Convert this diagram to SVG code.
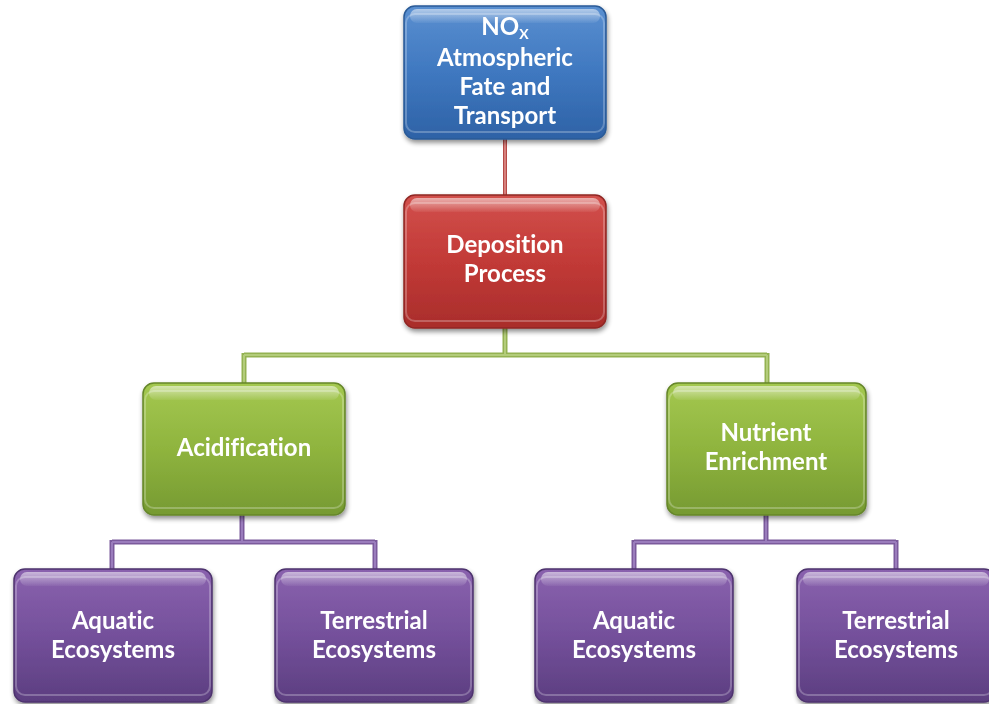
<svg xmlns="http://www.w3.org/2000/svg" width="989" height="704" viewBox="0 0 989 704">
<defs>
<linearGradient id="gBlue" x1="0" y1="0" x2="0" y2="1"><stop offset="0" stop-color="#5a8fd0"/><stop offset="0.5" stop-color="#3f78c0"/><stop offset="1" stop-color="#2e62a6"/></linearGradient>
<linearGradient id="gRed" x1="0" y1="0" x2="0" y2="1"><stop offset="0" stop-color="#d2504c"/><stop offset="0.5" stop-color="#c23a37"/><stop offset="1" stop-color="#a92d2b"/></linearGradient>
<linearGradient id="gGreen" x1="0" y1="0" x2="0" y2="1"><stop offset="0" stop-color="#a4c850"/><stop offset="0.5" stop-color="#8fb43e"/><stop offset="1" stop-color="#769a32"/></linearGradient>
<linearGradient id="gPurple" x1="0" y1="0" x2="0" y2="1"><stop offset="0" stop-color="#8a62ae"/><stop offset="0.5" stop-color="#74509b"/><stop offset="1" stop-color="#5c3e80"/></linearGradient>
<linearGradient id="gloss" x1="0" y1="0" x2="0" y2="1"><stop offset="0" stop-color="#fff" stop-opacity="0.55"/><stop offset="1" stop-color="#fff" stop-opacity="0.05"/></linearGradient>
<filter id="sh" x="-10%" y="-10%" width="125%" height="125%"><feGaussianBlur in="SourceAlpha" stdDeviation="2.5"/><feOffset dx="1" dy="3"/><feComponentTransfer><feFuncA type="linear" slope="0.45"/></feComponentTransfer><feMerge><feMergeNode/><feMergeNode in="SourceGraphic"/></feMerge></filter>
</defs>
<style>
.t{font-family:Lato,"Open Sans","Liberation Sans",sans-serif;font-weight:700;font-size:24px;fill:#fff;text-anchor:middle;font-variant-ligatures:none}
.sub{font-size:14px}
.gl{fill:url(#gloss)}
.edge{fill:none;stroke:#fff;stroke-opacity:0.25;stroke-width:2}
.cr{fill:none;stroke:#b54a47;stroke-width:4}
.cg{fill:none;stroke:#94b252;stroke-width:5}
.cp{fill:none;stroke:#7b5a9c;stroke-width:5}
.ci{fill:none;stroke-width:2}
</style>
<g id="connectors">
<path class="cr" d="M505 139 V195"/>
<path class="ci" stroke="#d7807c" d="M505 139 V195"/>
<path class="cg" d="M505 328 V355 M244 355 H767 M244 353 V383 M767 353 V383"/>
<path class="ci" stroke="#b3cc7a" d="M505 328 V355 M244 355 H767 M244 355 V383 M767 355 V383"/>
<path class="cp" d="M242 515 V542 M112 542 H375 M112 540 V569 M375 540 V569 M766 515 V542 M634 542 H896 M634 540 V569 M896 540 V569"/>
<path class="ci" stroke="#9a7cbc" d="M242 515 V542 M112 542 H375 M112 542 V569 M375 542 V569 M766 515 V542 M634 542 H896 M634 542 V569 M896 542 V569"/>
</g>
<g id="node-nox" filter="url(#sh)">
<rect x="404" y="6" width="202" height="133" rx="11" fill="url(#gBlue)" stroke="#2a5a96" stroke-width="1.5"/>
<rect x="410" y="9" width="190" height="14" rx="7" class="gl"/>
<rect x="406" y="14" width="198" height="118" rx="9" class="edge"/>
<text class="t" x="505" y="35">NO<tspan class="sub" dy="4">X</tspan></text>
<text class="t" x="505" y="66">Atmospheric</text>
<text class="t" x="505" y="95">Fate and</text>
<text class="t" x="505" y="124">Transport</text>
</g>
<g id="node-deposition" filter="url(#sh)">
<rect x="404" y="195" width="202" height="133" rx="11" fill="url(#gRed)" stroke="#8f2624" stroke-width="1.5"/>
<rect x="410" y="198" width="190" height="14" rx="7" class="gl"/>
<rect x="406" y="203" width="198" height="118" rx="9" class="edge"/>
<text class="t" x="505" y="253">Deposition</text>
<text class="t" x="505" y="282">Process</text>
</g>
<g id="node-acidification" filter="url(#sh)">
<rect x="143" y="383" width="202" height="132" rx="11" fill="url(#gGreen)" stroke="#65862a" stroke-width="1.5"/>
<rect x="149" y="386" width="190" height="14" rx="7" class="gl"/>
<rect x="145" y="391" width="198" height="117" rx="9" class="edge"/>
<text class="t" x="244" y="456">Acidification</text>
</g>
<g id="node-nutrient" filter="url(#sh)">
<rect x="667" y="383" width="199" height="132" rx="11" fill="url(#gGreen)" stroke="#65862a" stroke-width="1.5"/>
<rect x="673" y="386" width="187" height="14" rx="7" class="gl"/>
<rect x="669" y="391" width="195" height="117" rx="9" class="edge"/>
<text class="t" x="766" y="441">Nutrient</text>
<text class="t" x="766" y="470">Enrichment</text>
</g>
<g id="node-aquatic1" filter="url(#sh)">
<rect x="14" y="569" width="198" height="133" rx="11" fill="url(#gPurple)" stroke="#4e336e" stroke-width="1.5"/>
<rect x="20" y="572" width="186" height="14" rx="7" class="gl"/>
<rect x="16" y="577" width="194" height="118" rx="9" class="edge"/>
<text class="t" x="113" y="629">Aquatic</text>
<text class="t" x="113" y="658">Ecosystems</text>
</g>
<g id="node-terrestrial1" filter="url(#sh)">
<rect x="275" y="569" width="198" height="133" rx="11" fill="url(#gPurple)" stroke="#4e336e" stroke-width="1.5"/>
<rect x="281" y="572" width="186" height="14" rx="7" class="gl"/>
<rect x="277" y="577" width="194" height="118" rx="9" class="edge"/>
<text class="t" x="374" y="629">Terrestrial</text>
<text class="t" x="374" y="658">Ecosystems</text>
</g>
<g id="node-aquatic2" filter="url(#sh)">
<rect x="535" y="569" width="198" height="133" rx="11" fill="url(#gPurple)" stroke="#4e336e" stroke-width="1.5"/>
<rect x="541" y="572" width="186" height="14" rx="7" class="gl"/>
<rect x="537" y="577" width="194" height="118" rx="9" class="edge"/>
<text class="t" x="634" y="629">Aquatic</text>
<text class="t" x="634" y="658">Ecosystems</text>
</g>
<g id="node-terrestrial2" filter="url(#sh)">
<rect x="797" y="569" width="198" height="133" rx="11" fill="url(#gPurple)" stroke="#4e336e" stroke-width="1.5"/>
<rect x="803" y="572" width="186" height="14" rx="7" class="gl"/>
<rect x="799" y="577" width="194" height="118" rx="9" class="edge"/>
<text class="t" x="896" y="629">Terrestrial</text>
<text class="t" x="896" y="658">Ecosystems</text>
</g>
</svg>
